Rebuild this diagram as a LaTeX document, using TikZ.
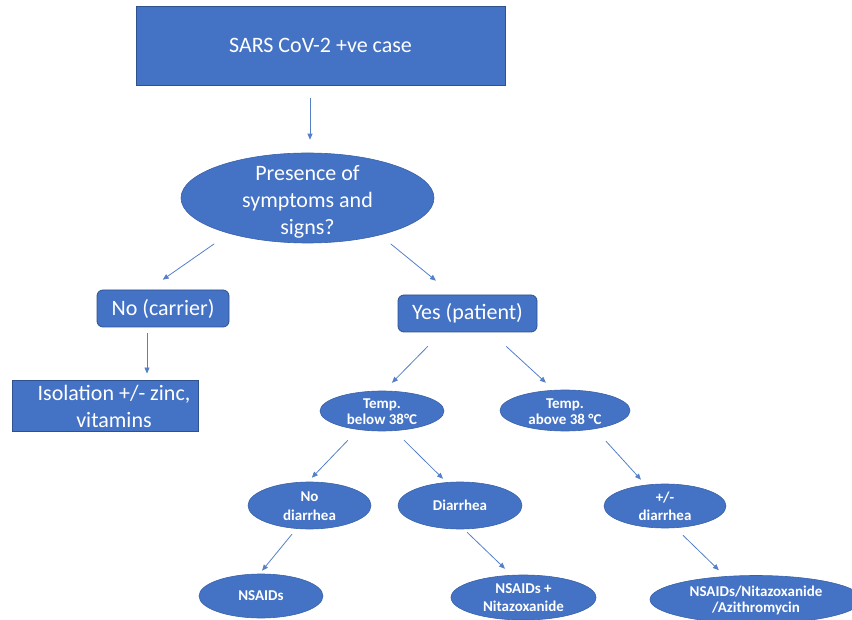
\documentclass[tikz,border=0pt]{standalone}
\usepackage{fontspec}
\setmainfont{Carlito}
\usetikzlibrary{shapes.geometric,arrows.meta}
\definecolor{fillblue}{HTML}{4472C4}
\definecolor{edgeblue}{HTML}{2F528F}
\definecolor{arrowblue}{HTML}{5580C8}
\begin{document}
\begin{tikzpicture}[x=1pt,y=-1pt,
  big/.style={font=\fontsize{22}{26.5}\selectfont, text=white, align=center, inner sep=0pt},
  small/.style={font=\fontsize{15}{17}\selectfont\bfseries, text=white, align=center, inner sep=0pt},
  rect/.style={rectangle, fill=fillblue, draw=edgeblue, line width=0.8pt, inner sep=0pt},
  rrect/.style={rect, rounded corners=6pt},
  oval/.style={ellipse, fill=fillblue, draw=edgeblue!50!fillblue, line width=0.6pt, inner sep=0pt},
  arr/.style={draw=arrowblue, line width=0.8pt, -{Triangle[length=6pt,width=5pt]}}
]
\useasboundingbox (0,0) rectangle (852,620);
\clip (0,0) rectangle (852,620);

% boxes
\node[rect, big, minimum width=369pt, minimum height=79pt] (top) at (320.5,45.5) {SARS CoV-2 +ve case};
\node[rrect, big, minimum width=132pt, minimum height=37pt] (no) at (163,308.5) {No (carrier)};
\node[rrect, big, minimum width=139pt, minimum height=37pt] (yes) at (467.5,313.5) {Yes (patient)};
\node[rect, minimum width=186pt, minimum height=51pt] (iso) at (105,405.5) {};
\node[big] (isotext) at ([xshift=9pt,yshift=-1pt]iso.center) {Isolation +/- zinc,\\vitamins};

% ellipses
\node[oval, minimum width=253pt, minimum height=90pt] (ell) at (307.5,198) {};
\node[big, font=\fontsize{22}{27}\selectfont] (elltext) at ([yshift=-4pt]ell.center) {Presence of\\symptoms and\\signs?};

\node[oval, minimum width=124pt, minimum height=40pt] (below) at (382,411) {};
\node[small, font=\fontsize{15}{16}\selectfont\bfseries] (belowtext) at ([yshift=-1pt]below.center) {Temp.\\below 38°C};

\node[oval, minimum width=130pt, minimum height=41pt] (above) at (565,410.5) {};
\node[small, font=\fontsize{15}{16}\selectfont\bfseries] (abovetext) at ([yshift=-1pt]above.center) {Temp.\\above 38 °C};

\node[oval, minimum width=123pt, minimum height=47pt] (nodia) at (309.5,505.5) {};
\node[small, font=\fontsize{15}{19}\selectfont\bfseries] (nodiatext) at ([yshift=-1pt]nodia.center) {No\\diarrhea};

\node[oval, minimum width=124pt, minimum height=47pt] (dia) at (460,505.5) {};
\node[small] (diatext) at (dia.center) {Diarrhea};

\node[oval, minimum width=122pt, minimum height=44pt] (pm) at (665,506) {};
\node[small, font=\fontsize{15}{18}\selectfont\bfseries] (pmtext) at (pm.center) {+/-\\diarrhea};

\node[oval, minimum width=124pt, minimum height=44pt] (nsaid) at (261,596) {};
\node[small] (nsaidtext) at (nsaid.center) {NSAIDs};

\node[oval, minimum width=145pt, minimum height=45pt] (nn) at (523.5,597.5) {};
\node[small, font=\fontsize{15}{18}\selectfont\bfseries] (nntext) at (nn.center) {NSAIDs +\\Nitazoxanide};

\node[oval, minimum width=212pt, minimum height=48pt] (nna) at (756,599.5) {};
\node[small, font=\fontsize{15}{16}\selectfont\bfseries] (nnatext) at ([yshift=-1pt]nna.center) {NSAIDs/Nitazoxanide\\/Azithromycin};

% arrows
\draw[arr, shorten <=13pt, shorten >=13pt] ([xshift=-10.5pt]top.south) -- ([xshift=2.5pt]ell.north);
\draw[arr, shorten <=1pt, shorten >=17.3pt] ([xshift=-92.5pt]ell.south) -- ([xshift=-14.5pt]no.north);
\draw[arr, shorten <=1pt, shorten >=22pt] ([xshift=82.5pt]ell.south) -- ([xshift=-14.5pt]yes.north);
\draw[arr, shorten <=6pt, shorten >=6pt] ([xshift=-16pt]no.south) -- ([xshift=42pt]iso.north);
\draw[arr, shorten <=19.5pt, shorten >=11.1pt] ([xshift=-26pt]yes.south) -- ([xshift=2.2pt]below.north);
\draw[arr, shorten <=20.6pt, shorten >=10.3pt] ([xshift=23.5pt]yes.south) -- ([xshift=-11.5pt]above.north);
\draw[arr, shorten <=12.4pt, shorten >=5.5pt] ([xshift=-25.5pt]below.south) -- ([xshift=-1.5pt]nodia.north);
\draw[arr, shorten <=12.7pt, shorten >=4.2pt] ([xshift=13pt]below.south) -- ([xshift=-14pt]dia.north);
\draw[arr, shorten <=13.4pt, shorten >=5.4pt] ([xshift=32pt]above.south) -- ([xshift=-20.4pt]pm.north);
\draw[arr, shorten <=6.4pt, shorten >=3.9pt] ([xshift=-13.5pt]nodia.south) -- ([xshift=-1.4pt]nsaid.north);
\draw[arr, shorten <=4.3pt, shorten >=8.6pt] ([xshift=4pt]dia.south) -- ([xshift=-12.3pt]nn.north);
\draw[arr, shorten <=10pt, shorten >=7.2pt] ([xshift=10.8pt]pm.south) -- ([xshift=-32pt]nna.north);
\end{tikzpicture}
\end{document}
